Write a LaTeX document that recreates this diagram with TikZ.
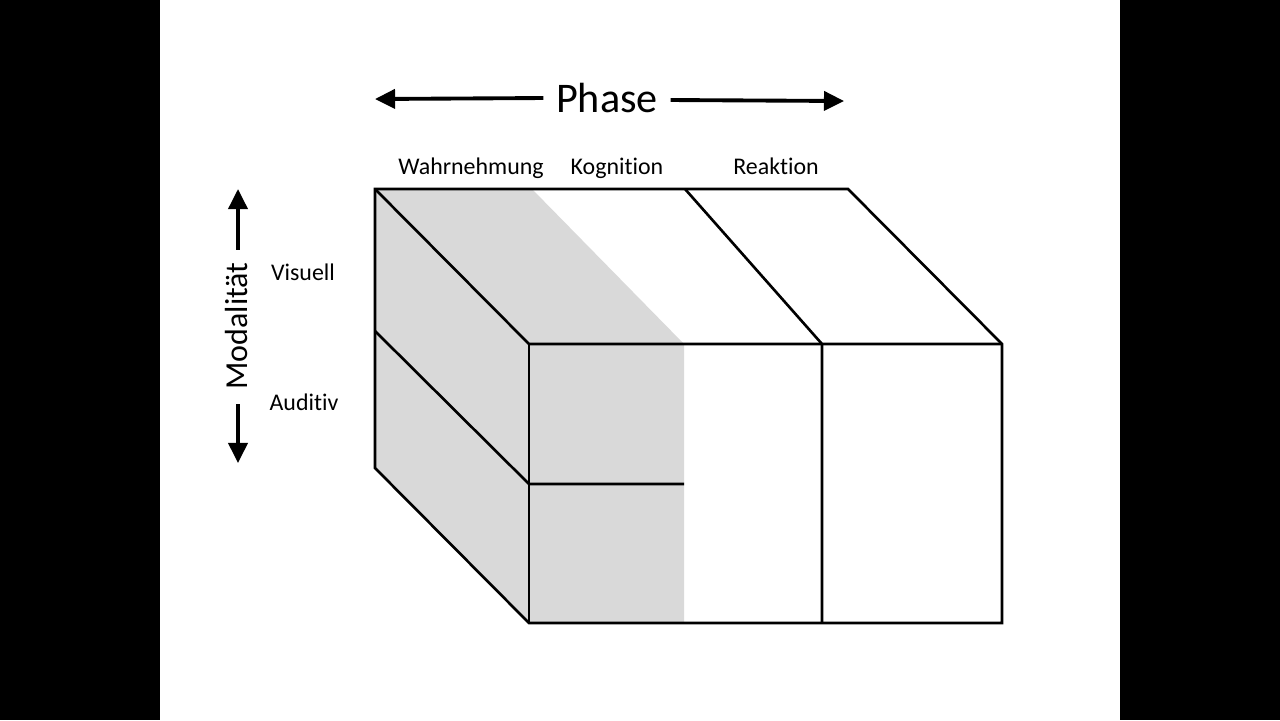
\documentclass[tikz,border=0pt]{standalone}
\usepackage{fontspec}
\setmainfont{Carlito}[Ligatures=NoCommon]
\usetikzlibrary{arrows.meta}
\definecolor{cubegray}{HTML}{D9D9D9}
\tikzset{
  edge/.style={line width=0.75pt, line join=miter},
  axis/.style={line width=1.1pt, -{Triangle[length=5.7pt,width=5.4pt]}},
  lbl/.style={font=\fontsize{6.8}{8}\selectfont, inner sep=0pt, anchor=base},
  title/.style={font=\fontsize{12}{14}\selectfont, inner sep=0pt},
}
\begin{document}
\begin{tikzpicture}[x=0.01cm,y=-0.01cm]
\useasboundingbox (0,0) rectangle (1280,720);
\fill[black] (0,0) rectangle (1280,720);
\fill[white] (160,0) rectangle (1120,720);
% cube corners
\coordinate (btl) at (375,189);
\coordinate (btr) at (848,189);
\coordinate (ftl) at (529,344);
\coordinate (ftr) at (1002,344);
\coordinate (fbl) at (529,623);
\coordinate (fbr) at (1002,623);
\coordinate (bbl) at (375,468);
\coordinate (lm) at (375,331);
\coordinate (fm) at (529,484);
\coordinate (fm2) at (684,484);
\coordinate (s1t) at (532,189);
\coordinate (s1f) at (684,344);
\coordinate (s1b) at (684,623);
\coordinate (s2t) at (685,189);
\coordinate (s2f) at (822,344);
\coordinate (s2b) at (822,623);
% shading
\fill[cubegray] (btl) -- (s1t) -- (s1f) -- (s1b) -- (fbl) -- (bbl) -- cycle;
% edges
\draw[edge] (btl) -- (btr) -- (ftr) -- (fbr) -- (fbl) -- (bbl) -- cycle;
\draw[edge] (btl) -- (ftl) -- (ftr);
\draw[edge] (ftl) -- (fbl);
\draw[edge] (lm) -- (fm) -- (fm2);
\draw[edge] (s2t) -- (s2f) -- (s2b);
% labels
\node[title] (phase) at (607,98) {Phase};
\coordinate (pl) at (375,99);
\coordinate (pr) at (844,101);
\draw[axis] (phase.west) ++(-12,0) -- (pl);
\draw[axis] (phase.east) ++(12,2) -- (pr);
\node[lbl] (wahr) at (471,174) {Wahrnehmung};
\node[lbl] (kogn) at (617,174) {Kognition};
\node[lbl] (reak) at (776,174) {Reaktion};
\node[title, font=\fontsize{9.1}{11}\selectfont, rotate=90] (moda) at (237,326) {Modalität};
\coordinate (mu) at (238,189);
\coordinate (md) at (238,463);
\draw[axis] (moda.east) ++(1,-12) -- (mu);
\draw[axis] (moda.west) ++(1,14) -- (md);
\node[lbl] (vis) at (303,280) {Visuell};
\node[lbl] (aud) at (304,410) {Auditiv};
\end{tikzpicture}
\end{document}
